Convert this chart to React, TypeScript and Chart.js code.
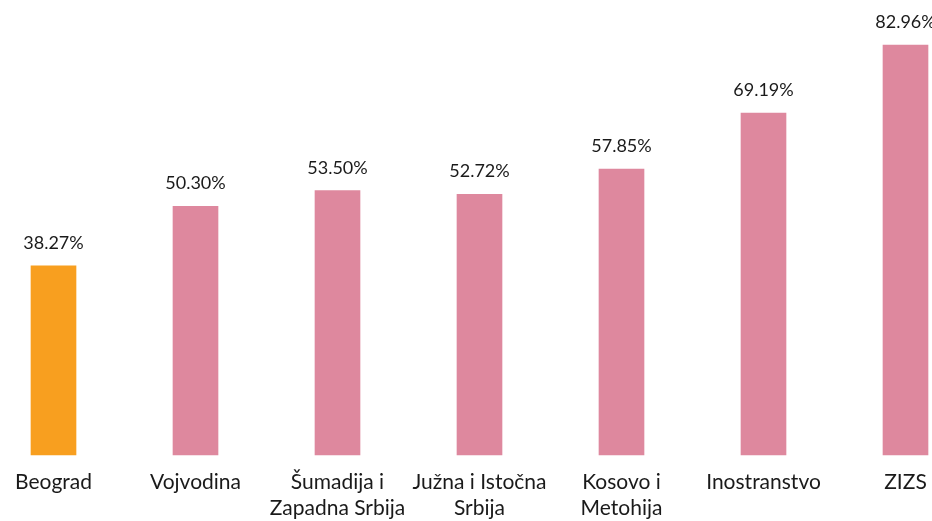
import React, { useEffect, useRef } from "react";
import { Chart, registerables } from "chart.js";

Chart.register(...registerables);

const categories: (string | string[])[] = [
  "Beograd",
  "Vojvodina",
  ["Šumadija i", "Zapadna Srbija"],
  ["Južna i Istočna", "Srbija"],
  ["Kosovo i", "Metohija"],
  "Inostranstvo",
  "ZIZS",
];
const values: number[] = [38.27, 50.3, 53.5, 52.72, 57.85, 69.19, 82.96];
const barColors: string[] = [
  "#F89F1F",
  "#DE889E",
  "#DE889E",
  "#DE889E",
  "#DE889E",
  "#DE889E",
  "#DE889E",
];

const FONT = "Lato, 'Open Sans', sans-serif";

const valueLabels = {
  id: "valueLabels",
  afterDatasetsDraw(chart: any) {
    const ctx = chart.ctx;
    const meta = chart.getDatasetMeta(0);
    ctx.save();
    ctx.font = `18px ${FONT}`;
    ctx.fillStyle = "#1a1a1a";
    ctx.textAlign = "center";
    ctx.textBaseline = "alphabetic";
    meta.data.forEach((bar: any, i: number) => {
      const v = values[i];
      ctx.fillText(v.toFixed(2) + "%", bar.x, bar.y - 17);
    });
    ctx.restore();
  },
};

export default function App() {
  const ref = useRef<HTMLCanvasElement | null>(null);
  useEffect(() => {
    document.body.style.margin = "0";
    if (!ref.current) return;
    const chart = new Chart(ref.current, {
      type: "bar",
      data: {
        labels: categories,
        datasets: [
          {
            data: values,
            backgroundColor: barColors,
            borderWidth: 0,
            barThickness: 45,
            clip: false,
          },
        ],
      },
      options: {
        animation: false,
        responsive: true,
        maintainAspectRatio: false,
        layout: { padding: { top: 45, left: 53.5, right: 26.5, bottom: 0 } },
        plugins: {
          legend: { display: false },
          tooltip: { enabled: false },
        },
        scales: {
          x: {
            offset: false,
            grid: { display: false },
            border: { display: false },
            ticks: {
              maxRotation: 0,
              autoSkip: false,
              padding: 7,
              color: "#1a1a1a",
              font: { family: FONT, size: 21, lineHeight: 1.2 },
            },
            afterFit: (scale: any) => {
              scale.height = 66;
              scale.paddingLeft = 0;
              scale.paddingRight = 0;
            },
          },
          y: {
            display: false,
            min: 0,
            max: 82.96,
          },
        },
      },
      plugins: [valueLabels],
    });
    return () => chart.destroy();
  }, []);
  return (
    <div style={{ width: 932, height: 521, position: "relative" }}>
      <canvas ref={ref} />
    </div>
  );
}
